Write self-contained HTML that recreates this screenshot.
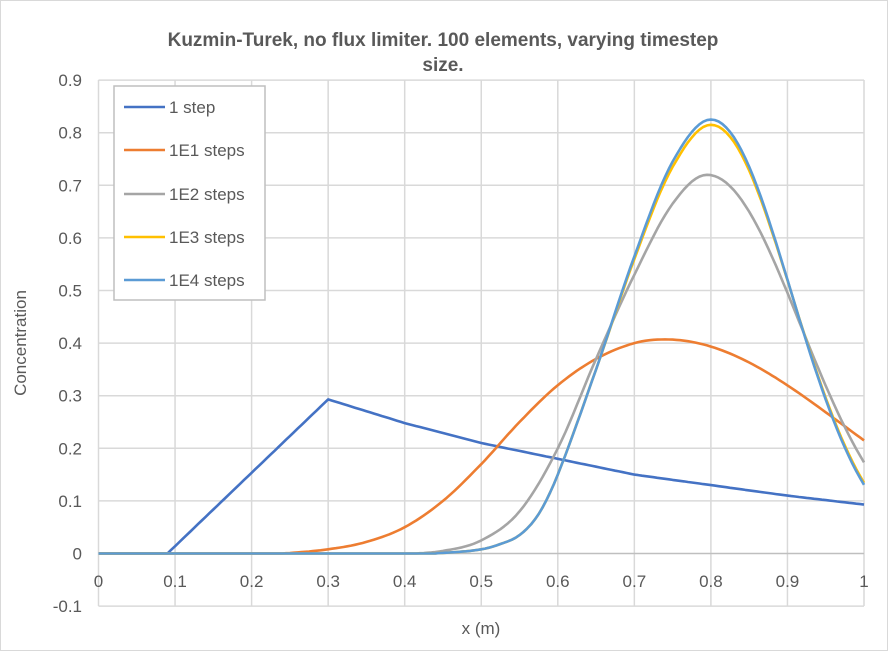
<!DOCTYPE html>
<html><head><meta charset="utf-8"><style>
body{margin:0;background:#fff}
svg{display:block;font-family:"Liberation Sans",Calibri,sans-serif}
</style></head><body>
<svg id="s" width="888" height="651" viewBox="0 0 888 651">
<rect x="0.5" y="0.5" width="887" height="650" fill="#fff" stroke="#d9d9d9"/>
<text x="443" y="46" text-anchor="middle" font-size="19" font-weight="bold" fill="#595959">Kuzmin-Turek, no flux limiter. 100 elements, varying timestep</text>
<text x="443" y="71" text-anchor="middle" font-size="19" font-weight="bold" fill="#595959">size.</text>
<g id="grid" stroke="#d9d9d9" stroke-width="1.5"></g>
<g id="lab" font-size="17" fill="#595959"></g>
<text x="481" y="634" text-anchor="middle" font-size="17" fill="#595959">x (m)</text>
<text transform="translate(26,343) rotate(-90)" text-anchor="middle" font-size="17" fill="#595959">Concentration</text>
<g id="ser" fill="none" stroke-width="2.6" stroke-linejoin="round"></g>
<rect x="114" y="86" width="151" height="214" fill="#fff" stroke="#bfbfbf" stroke-width="1.5"/>
<g font-size="17" fill="#595959">
<line x1="124" y1="107" x2="165" y2="107" stroke="#4472c4" stroke-width="2.6"/><text x="169" y="113">1 step</text>
<line x1="124" y1="150" x2="165" y2="150" stroke="#ed7d31" stroke-width="2.6"/><text x="169" y="156">1E1 steps</text>
<line x1="124" y1="194" x2="165" y2="194" stroke="#a5a5a5" stroke-width="2.6"/><text x="169" y="200">1E2 steps</text>
<line x1="124" y1="237" x2="165" y2="237" stroke="#ffc000" stroke-width="2.6"/><text x="169" y="243">1E3 steps</text>
<line x1="124" y1="280" x2="165" y2="280" stroke="#5b9bd5" stroke-width="2.6"/><text x="169" y="286">1E4 steps</text>
</g>
</svg>
<script>
var X=function(x){return 98.5+x*765.5},Y=function(y){return 553.5-y*526};
var g=document.getElementById('grid'),l=document.getElementById('lab'),s=document.getElementById('ser');
var h='',t='';
for(var i=0;i<=10;i++){var x=X(i/10);h+='<line x1="'+x+'" y1="80" x2="'+x+'" y2="606"/>';
t+='<text x="'+x+'" y="587" text-anchor="middle">'+(i==0?'0':i==10?'1':(i/10).toFixed(1))+'</text>';}
for(var j=-1;j<=9;j++){var y=Y(j/10);h+='<line x1="98.5" y1="'+y+'" x2="864" y2="'+y+'" stroke="'+(j==0?'#bfbfbf':'#d9d9d9')+'"/>';
t+='<text x="82" y="'+(y+6)+'" text-anchor="end">'+(j==0?'0':(j/10).toFixed(1))+'</text>';}
g.innerHTML=h;l.innerHTML=t;
function lin(p,x){if(x<=p[0][0])return p[0][1];for(var k=0;k<p.length-1;k++){if(x<=p[k+1][0]){var a=p[k],b=p[k+1];return a[1]+(b[1]-a[1])*(x-a[0])/(b[0]-a[0]);}}return p[p.length-1][1];}
function cub(p,x,endSlope){var n=p.length;if(x<=p[0][0])return p[0][1];
for(var k=0;k<n-1;k++){if(x<=p[k+1][0]){var a=p[k],b=p[k+1],hh=b[0]-a[0];
var m0=k>0?(b[1]-p[k-1][1])/(b[0]-p[k-1][0]):0;
var m1=k<n-2?(p[k+2][1]-a[1])/(p[k+2][0]-a[0]):endSlope;
var u=(x-a[0])/hh,u2=u*u,u3=u2*u;
return (2*u3-3*u2+1)*a[1]+(u3-2*u2+u)*hh*m0+(-2*u3+3*u2)*b[1]+(u3-u2)*hh*m1;}}return p[n-1][1];}
var p1=[[0,0],[0.09,0],[0.3,0.293],[0.4,0.248],[0.5,0.21],[0.6,0.18],[0.7,0.15],[0.8,0.13],[0.9,0.11],[1,0.093]];
var q1=[[0.22,0],[0.25,0.001],[0.3,0.008],[0.35,0.022],[0.4,0.05],[0.45,0.1],[0.5,0.17],[0.55,0.25],[0.6,0.32],[0.65,0.37],[0.7,0.40],[0.74,0.407]];
var q2=[[0.4,0],[0.45,0.005],[0.5,0.025],[0.55,0.08],[0.6,0.2],[0.65,0.37],[0.7,0.53],[0.75,0.665],[0.795,0.72]];
var q3=[[0.42,0],[0.46,0.002],[0.5,0.008],[0.525,0.018],[0.55,0.035],[0.575,0.075],[0.6,0.15],[0.65,0.35],[0.7,0.56],[0.75,0.735],[0.8,0.815]];
var q4=[[0.42,0],[0.46,0.002],[0.5,0.008],[0.525,0.018],[0.55,0.035],[0.575,0.075],[0.6,0.15],[0.65,0.35],[0.7,0.565],[0.75,0.745],[0.8,0.825]];
function gs(x,m,pk,r2){var d=x-m;return pk*Math.exp(-d*d/r2);}
var f=[
['#4472c4',function(x){return lin(p1,x)}],
['#ed7d31',function(x){return x<0.74?cub(q1,x,0):gs(x,0.74,0.407,0.106)}],
['#a5a5a5',function(x){return x<0.795?cub(q2,x,0):gs(x,0.795,0.72,0.0295)}],
['#ffc000',function(x){return x<0.8?cub(q3,x,0):gs(x,0.8,0.815,0.0222)}],
['#5b9bd5',function(x){return x<0.8?cub(q4,x,0):gs(x,0.8,0.825,0.0217)}]];
var o='';
f.forEach(function(e){var d='';for(var i=0;i<=200;i++){var x=i/200,v=e[1](x);if(v<0.0005)v=0;d+=(i?'L':'M')+X(x).toFixed(1)+','+Y(v).toFixed(1);}
o+='<path d="'+d+'" stroke="'+e[0]+'"/>';});
s.innerHTML=o;
</script>
</body></html>
